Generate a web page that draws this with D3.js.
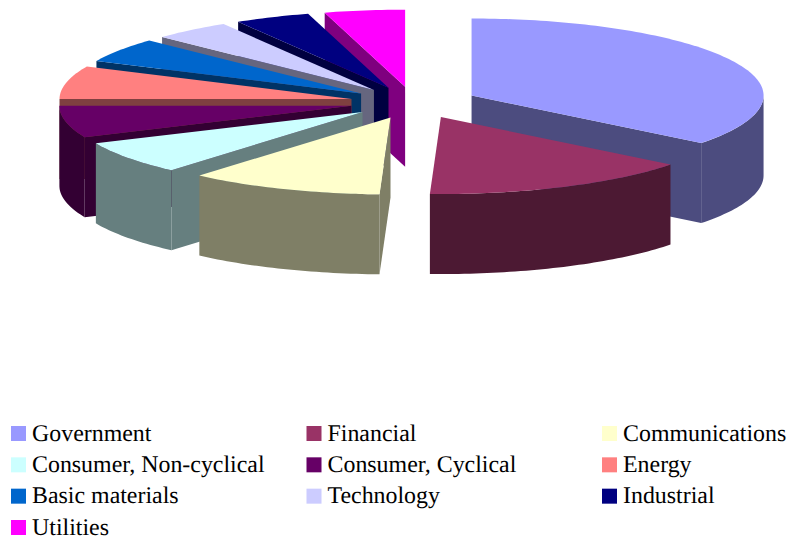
<!DOCTYPE html>
<html>
<head>
<meta charset="utf-8">
<script src="https://cdn.jsdelivr.net/npm/d3@7"></script>
<style>
  html, body { margin: 0; padding: 0; background: #fff; }
  svg { display: block; }
  text { font-family: "Liberation Serif", serif; fill: #000; text-rendering: geometricPrecision; }
</style>
</head>
<body>
<svg id="pie"></svg>
<script>
var categories = ["Government", "Financial", "Communications", "Consumer, Non-cyclical", "Consumer, Cyclical",
                  "Energy", "Basic materials", "Technology", "Industrial", "Utilities"];
var shares = [35.6, 15, 10.76, 6.97, 6.67, 6.94, 5.14, 4.31, 4.17, 4.44];
var topColors = ["#9999ff", "#993366", "#ffffcc", "#ccffff", "#660066", "#ff8080", "#0066cc", "#ccccff", "#000080", "#ff00ff"];
var sideColors = ["#4c4c7f", "#4c1933", "#7f7f66", "#667f7f", "#330033", "#7f4040", "#003366", "#66667f", "#000040", "#7f007f"];

var width = 790, height = 538;
var depth = 80;

var svg = d3.select("#pie").attr("width", width).attr("height", height);

// ellipse of the pie, and a second one for how far the slices are pulled out
var px = d3.scaleLinear().domain([-1, 1]).range([-292, 292]);
var py = d3.scaleLinear().domain([-1, 1]).range([-77, 77]);
var ex = d3.scaleLinear().domain([-1, 1]).range([414 - 64, 414 + 64]);
var ey = d3.scaleLinear().domain([-1, 1]).range([102.5 - 16, 102.5 + 16]);

var arcs = d3.pie().sort(null).value(d => d)(shares);
var line = d3.line();

function sample(a0, a1) {
  var n = Math.max(2, Math.ceil((a1 - a0) / 0.02));
  return d3.range(n + 1).map(i => a0 + (a1 - a0) * i / n);
}

var slices = arcs.map(function(a, i) {
  var mid = (a.startAngle + a.endAngle) / 2;
  var cx = ex(Math.sin(mid)), cy = ey(-Math.cos(mid));
  var rim = t => [cx + px(Math.sin(t)), cy + py(-Math.cos(t))];
  return { i: i, a0: a.startAngle, a1: a.endAngle, apex: [cx, cy], rim: rim, order: -Math.cos(mid) };
});

// back to front
slices.sort((a, b) => a.order - b.order);

function drop(p) { return [p[0], p[1] + depth]; }

slices.forEach(function(s) {
  var g = svg.append("g").attr("class", "slice");
  var side = sideColors[s.i];

  function wall(t) {
    var r = s.rim(t);
    g.append("path")
      .attr("d", line([s.apex, r, drop(r), drop(s.apex)]) + "Z")
      .attr("fill", side);
  }
  // only the cut faces turned towards the viewer
  if (Math.sin(s.a0) < -1e-6) wall(s.a0);
  if (Math.sin(s.a1) > 1e-6) wall(s.a1);

  // curved outer wall, lower half of the ellipse only
  var from = Math.max(s.a0, Math.PI / 2), to = Math.min(s.a1, Math.PI * 1.5);
  if (to > from) {
    var upper = sample(from, to).map(s.rim);
    var lower = upper.map(drop).reverse();
    g.append("path")
      .attr("d", line(upper.concat(lower)) + "Z")
      .attr("fill", side);
  }

  g.append("path")
    .attr("d", line([s.apex].concat(sample(s.a0, s.a1).map(s.rim))) + "Z")
    .attr("fill", topColors[s.i]);
});

// legend, three columns
var colX = d3.scalePoint().domain([0, 1, 2]).range([11, 602]);
var rowY = d3.scaleLinear().domain([0, 3]).range([426, 520]);
var swatch = 15;

var legend = svg.selectAll(".legend")
  .data(categories)
  .enter()
  .append("g")
    .attr("class", "legend")
    .attr("transform", (d, i) => "translate(" + colX(i % 3) + "," + rowY(Math.floor(i / 3)) + ")");

legend.append("rect")
  .attr("width", swatch)
  .attr("height", swatch)
  .attr("fill", (d, i) => topColors[i]);

legend.append("text")
  .attr("x", 21)
  .attr("y", swatch - 0.5)
  .attr("font-size", "23.9px")
  .text(d => d);
</script>
</body>
</html>
